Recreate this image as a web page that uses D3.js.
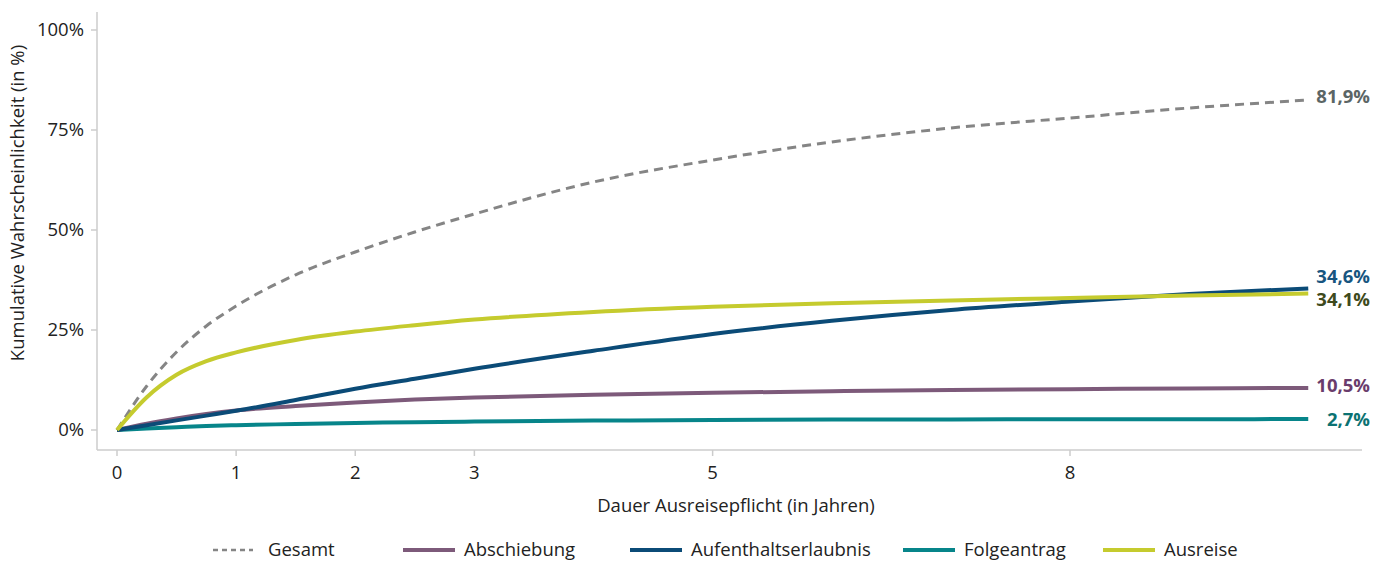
<!DOCTYPE html>
<html><head><meta charset="utf-8">
<script src="https://cdn.jsdelivr.net/npm/d3@7"></script>
<style>body{margin:0;background:#fff;} text{font-family:"Open Sans","Noto Sans",sans-serif;}</style>
</head><body>
<svg id="c" width="1386" height="561"></svg>
<script>
const years = [0,0.25,0.5,0.75,1,1.5,2,2.5,3,4,5,6,7,8,9,10];
const gesamt = [0,11,19.5,26,31,38.8,44.5,49.5,54,62,67.5,72,75.5,78,80.5,82.5];
const abschiebung = [0,1.6,2.9,4,4.9,6,6.9,7.6,8.1,8.8,9.3,9.7,10,10.2,10.4,10.5];
const aufenthalt = [0,1.2,2.4,3.6,4.8,7.5,10.3,12.8,15.3,19.8,24,27.3,30,32.1,34,35.4];
const folgeantrag = [0,0.4,0.7,1,1.2,1.5,1.75,1.95,2.1,2.35,2.5,2.6,2.65,2.7,2.7,2.75];
const ausreise = [0,8.2,13.8,17.2,19.4,22.5,24.6,26.2,27.6,29.5,30.8,31.7,32.4,33,33.6,34.1];
const xTicks = [0,1,2,3,5,8];
const yTicks = [0,25,50,75,100];
const seriesNames = ["Gesamt","Abschiebung","Aufenthaltserlaubnis","Folgeantrag","Ausreise"];
const endLabels = ["81,9%","10,5%","34,6%","2,7%","34,1%"];

const series = [
  {name:seriesNames[0], vals:gesamt, color:"#858585", label:endLabels[0], lc:"#5b6565", ly:97, dash:"9,6", w:3},
  {name:seriesNames[1], vals:abschiebung, color:"#7d5a7a", label:endLabels[1], lc:"#6a3c6c", ly:386, w:4},
  {name:seriesNames[2], vals:aufenthalt, color:"#0b4b77", label:endLabels[2], lc:"#17557f", ly:277, w:4},
  {name:seriesNames[3], vals:folgeantrag, color:"#07858a", label:endLabels[3], lc:"#0c7272", ly:420, w:4},
  {name:seriesNames[4], vals:ausreise, color:"#c5cb2e", label:endLabels[4], lc:"#3e4a1c", ly:300, w:4}
];

const FS = 18.5;
const svg = d3.select("#c");
const x = d3.scaleLinear().domain([0,8]).range([117,1070]);
const y = d3.scaleLinear().domain([0,100]).range([430,30]);
const axisCol = "#cccccc";

svg.append("line").attr("x1",97).attr("x2",97).attr("y1",12).attr("y2",450).attr("stroke",axisCol).attr("stroke-width",1.5);
svg.append("line").attr("x1",97).attr("x2",1362).attr("y1",450).attr("y2",450).attr("stroke",axisCol).attr("stroke-width",1.5);

const ya = svg.append("g");
yTicks.forEach(t=>{
  ya.append("line").attr("x1",91).attr("x2",97).attr("y1",y(t)).attr("y2",y(t)).attr("stroke",axisCol).attr("stroke-width",1.5);
  ya.append("text").attr("x",84).attr("y",y(t)).attr("dy","0.35em").attr("text-anchor","end").attr("font-size",FS).attr("fill","#222").text(t+"%");
});
const xa = svg.append("g");
xTicks.forEach(t=>{
  xa.append("line").attr("x1",x(t)).attr("x2",x(t)).attr("y1",450).attr("y2",456).attr("stroke",axisCol).attr("stroke-width",1.5);
  xa.append("text").attr("x",x(t)).attr("y",479).attr("text-anchor","middle").attr("font-size",FS).attr("fill","#222").text(t);
});

svg.append("text").attr("x",736).attr("y",512).attr("text-anchor","middle").attr("font-size",FS).attr("fill","#222").text("Dauer Ausreisepflicht (in Jahren)");
svg.append("text").attr("transform","translate(24,203) rotate(-90)").attr("text-anchor","middle").attr("font-size",FS).attr("fill","#222").text("Kumulative Wahrscheinlichkeit (in %)");

const line = d3.line().x((d,i)=>x(years[i])).y(d=>y(d)).curve(d3.curveMonotoneX);
const order = [0,3,1,2,4];
order.forEach(k=>{
  const s = series[k];
  svg.append("path").attr("d",line(s.vals)).attr("fill","none").attr("stroke",s.color).attr("stroke-width",s.w)
    .attr("stroke-dasharray",s.dash||null).attr("stroke-linejoin","round");
});
series.forEach(s=>{
  svg.append("text").attr("x",1370).attr("y",s.ly).attr("dy","0.35em").attr("text-anchor","end").attr("font-size",FS).attr("font-weight","bold").attr("fill",s.lc).text(s.label);
});

const legX = [213,403,630,903,1103];
series.forEach((s,i)=>{
  const g = svg.append("g").attr("transform",`translate(${legX[i]},550)`);
  g.append("line").attr("x1",0).attr("x2",s.dash?40:52).attr("y1",0).attr("y2",0).attr("stroke",s.color)
    .attr("stroke-width",s.dash?2.5:4).attr("stroke-dasharray",s.dash?"5,4":null);
  g.append("text").attr("x",s.dash?55:61).attr("y",0).attr("dy","0.35em").attr("font-size",FS).attr("fill","#222").text(s.name);
});
</script>
</body></html>
